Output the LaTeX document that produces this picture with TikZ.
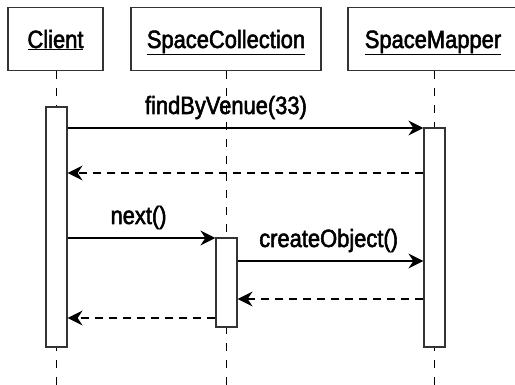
\documentclass[tikz,border=0pt]{standalone}
\usepackage{fontspec}
\setmainfont{Liberation Sans}[FakeStretch=0.876, FakeBold=2.2]
\usetikzlibrary{arrows.meta}
\begin{document}
\begin{tikzpicture}[x=1pt,y=-1pt,
  every node/.style={font=\fontsize{25}{28}\selectfont},
  objbox/.style={draw=black!80, line width=1.2pt, fill=white, minimum height=63pt, inner sep=0pt, text height=18pt, text depth=0pt},
  actbox/.style={draw=black!80, line width=1.2pt, fill=white, minimum width=21pt, inner sep=0pt},
  lifeline/.style={line width=1.6pt, dash pattern=on 8pt off 9pt},
  msg/.style={line width=1.6pt, -{Stealth[length=15pt,width=15pt,inset=5pt]}},
  ret/.style={msg, dash pattern=on 8pt off 6pt},
  lbl/.style={anchor=base, yshift=14pt, inner sep=0pt}]
\useasboundingbox (0,0) rectangle (515,385);
% objects
\node[objbox, minimum width=95pt] (cl) at (55.5,39) {\underline{Client}};
\node[objbox, minimum width=190pt] (sc) at (226,39) {\underline{SpaceCollection}};
\node[objbox, minimum width=170pt] (sm) at (433,39) {\underline{SpaceMapper}};
% lifeline ends
\coordinate (clb) at (56.5,385);
\coordinate (scb) at (226.5,385);
\coordinate (smb) at (434.5,385);
\draw[lifeline] (cl.south -| clb) -- (clb);
\draw[lifeline] (sc.south -| scb) -- (scb);
\draw[lifeline] (sm.south -| smb) -- (smb);
% activations
\node[actbox, minimum height=240pt] (ca) at (56.5,227) {};
\node[actbox, minimum height=219pt] (ma) at (434.5,237.5) {};
\node[actbox, minimum height=89pt] (sa) at (226.5,282.5) {};
% message levels
\coordinate (m1) at (0,128);
\coordinate (m2) at (0,173);
\coordinate (m3) at (0,238);
\coordinate (m4) at (0,261);
\coordinate (m5) at (0,299);
\coordinate (m6) at (0,318);
\draw[msg] (ca.east |- m1) -- node[lbl, pos=0.445] {findByVenue(33)} (ma.west |- m1);
\draw[ret] (ma.west |- m2) -- (ca.east |- m2);
\draw[msg] (ca.east |- m3) -- node[lbl, pos=0.48] {next()} (sa.west |- m3);
\draw[msg] (sa.east |- m4) -- node[lbl, pos=0.49] {createObject()} (ma.west |- m4);
\draw[ret] (ma.west |- m5) -- (sa.east |- m5);
\draw[ret] (sa.west |- m6) -- (ca.east |- m6);
\end{tikzpicture}
\end{document}
